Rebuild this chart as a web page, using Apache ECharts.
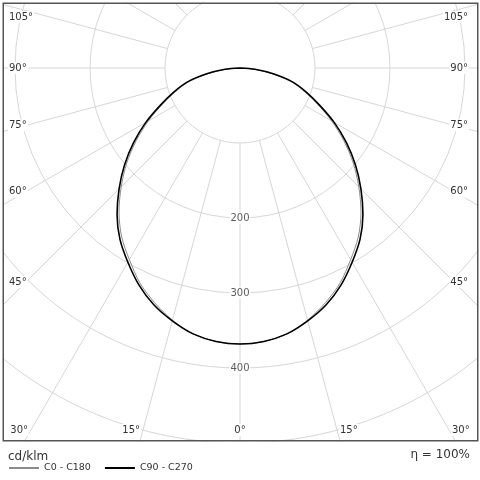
<!DOCTYPE html>
<html>
<head>
<meta charset="utf-8">
<script src="https://cdn.jsdelivr.net/npm/echarts@6/dist/echarts.min.js"></script>
<style>
  html, body { margin: 0; padding: 0; background: #fff; }
  #chart { width: 480px; height: 480px; }
</style>
</head>
<body>
<div id="chart"></div>
<script>
// gamma angles (deg from nadir) and intensities in cd/klm
var gammaAngles = [0, 5, 10, 15, 20, 25, 30, 35, 40, 45, 50, 55, 60, 65, 70, 75, 80, 85, 90];
var c0c180 = [368, 366, 360, 348, 333, 316, 295, 275, 251, 224, 197, 169, 141, 114, 91, 71, 43, 19, 0];
var c90c270 = [368, 366, 360, 349, 336, 319, 299, 279, 255, 228, 201, 173, 145, 117, 94, 73, 45, 20, 0];
var angleTicks = [0, 15, 30, 45, 60, 75, 90, 105];
var ringLabels = [200, 300, 400];

var cx = 240, cy = 68;          // polar origin (px)
var rInner = 75, rOuter = 450;  // px of the 100 and 600 rings
var gridColor = '#d6d6d6';
var font = '"DejaVu Sans", sans-serif';

// left half uses gamma as is, right half mirrors it (360 - gamma)
function curve(vals) {
  var pts = [];
  for (var i = gammaAngles.length - 1; i >= 0; i--) pts.push([vals[i], gammaAngles[i]]);
  for (var j = 1; j < gammaAngles.length; j++) pts.push([vals[j], 360 - gammaAngles[j]]);
  return pts;
}

// angle labels sit where the ray meets the inner label frame
function angleLabels() {
  var out = [];
  var bottomY = 430, leftX = 26, rightX = 454;
  angleTicks.forEach(function (a) {
    var sides = a === 0 ? [0] : [-1, 1];
    sides.forEach(function (s) {
      var rad = a * Math.PI / 180;
      var dx = s * Math.sin(rad), dy = Math.cos(rad);
      var tb = dy > 0 ? (bottomY - cy) / dy : Infinity;
      var ts = s !== 0 ? (s < 0 ? cx - leftX : rightX - cx) / Math.abs(dx) : Infinity;
      var x, y, align;
      if (tb <= ts) {
        y = bottomY;
        x = cx + dx * tb + s * 2;
        align = s < 0 ? 'right' : (s > 0 ? 'left' : 'center');
      } else {
        y = Math.max(17, cy + dy * ts);
        x = s < 0 ? 8 : 469;
        align = s < 0 ? 'left' : 'right';
      }
      out.push({
        type: 'text', z: 10, silent: true,
        style: {
          text: a + '°', x: x, y: y, align: align, verticalAlign: 'middle',
          fill: '#333', font: '10px ' + font, backgroundColor: '#fff', padding: [1, 1]
        }
      });
    });
  });
  return out;
}

var hidden = { show: false };
var chart = echarts.init(document.getElementById('chart'));
chart.setOption({
  animation: false,
  polar: [
    { center: [cx, cy], radius: [rInner, rOuter] },   // grid, rings from 100
    { center: [cx, cy], radius: [0, rOuter] }         // curves, from 0
  ],
  angleAxis: [
    {
      polarIndex: 0, type: 'value', min: 0, max: 360, interval: 15, startAngle: -90, clockwise: true,
      axisLine: hidden, axisTick: hidden, axisLabel: hidden,
      splitLine: { show: true, lineStyle: { color: gridColor, width: 1 } }
    },
    {
      polarIndex: 1, type: 'value', min: 0, max: 360, interval: 15, startAngle: -90, clockwise: true,
      axisLine: hidden, axisTick: hidden, axisLabel: hidden, splitLine: hidden
    }
  ],
  radiusAxis: [
    {
      polarIndex: 0, type: 'value', min: 100, max: 600, interval: 100,
      axisLine: hidden, axisTick: hidden, axisLabel: hidden,
      splitLine: { show: true, lineStyle: { color: gridColor, width: 1 } }
    },
    {
      polarIndex: 1, type: 'value', min: 0, max: 600, interval: 100,
      axisLine: hidden, axisTick: hidden, axisLabel: hidden, splitLine: hidden
    }
  ],
  legend: {
    z: 150,
    left: 8, top: 463, padding: 0,
    itemWidth: 30, itemHeight: 12, itemGap: 13,
    itemStyle: { opacity: 0 },
    textStyle: { fontSize: 9.5, color: '#333', fontFamily: font },
    data: ['C0 - C180', 'C90 - C270']
  },
  series: [
    {
      name: 'ring labels', type: 'scatter', coordinateSystem: 'polar', polarIndex: 0,
      symbolSize: 1, itemStyle: { color: 'rgba(0,0,0,0)' }, silent: true, z: 3,
      label: {
        show: true, position: 'inside', color: '#333', fontSize: 10, fontFamily: font,
        backgroundColor: '#fff', padding: [1, 1],
        formatter: function (p) { return p.value[0]; }
      },
      data: ringLabels.map(function (v) { return [v, 0]; })
    },
    {
      name: 'C0 - C180', type: 'line', coordinateSystem: 'polar', polarIndex: 1, clip: false,
      symbol: 'none', smooth: 0.3, z: 4,
      lineStyle: { color: '#8c8c8c', width: 1 },
      itemStyle: { color: '#8c8c8c' },
      data: curve(c0c180)
    },
    {
      name: 'C90 - C270', type: 'line', coordinateSystem: 'polar', polarIndex: 1, clip: false,
      symbol: 'none', smooth: 0.3, z: 5,
      lineStyle: { color: '#000', width: 1.6 },
      itemStyle: { color: '#000' },
      data: curve(c90c270)
    }
  ],
  graphic: angleLabels().concat([
    { type: 'rect', z: 100, silent: true, shape: { x: 0, y: 0, width: 480, height: 2.5 }, style: { fill: '#fff' } },
    { type: 'rect', z: 100, silent: true, shape: { x: 0, y: 0, width: 2.5, height: 480 }, style: { fill: '#fff' } },
    { type: 'rect', z: 100, silent: true, shape: { x: 478.5, y: 0, width: 2, height: 480 }, style: { fill: '#fff' } },
    { type: 'rect', z: 100, silent: true, shape: { x: 0, y: 441.5, width: 480, height: 40 }, style: { fill: '#fff' } },
    { type: 'rect', z: 101, silent: true, shape: { x: 3.25, y: 3.25, width: 474.5, height: 437.5 },
      style: { fill: 'none', stroke: '#555', lineWidth: 1.5 } },
    { type: 'text', z: 160, silent: true,
      style: { text: 'cd/klm', x: 8, y: 457, verticalAlign: 'middle', fill: '#333', font: '12px ' + font } },
    { type: 'text', z: 160, silent: true,
      style: { text: 'η = 100%', x: 470, y: 455, align: 'right', verticalAlign: 'middle', fill: '#333', font: '12px ' + font } }
  ])
});
</script>
</body>
</html>
